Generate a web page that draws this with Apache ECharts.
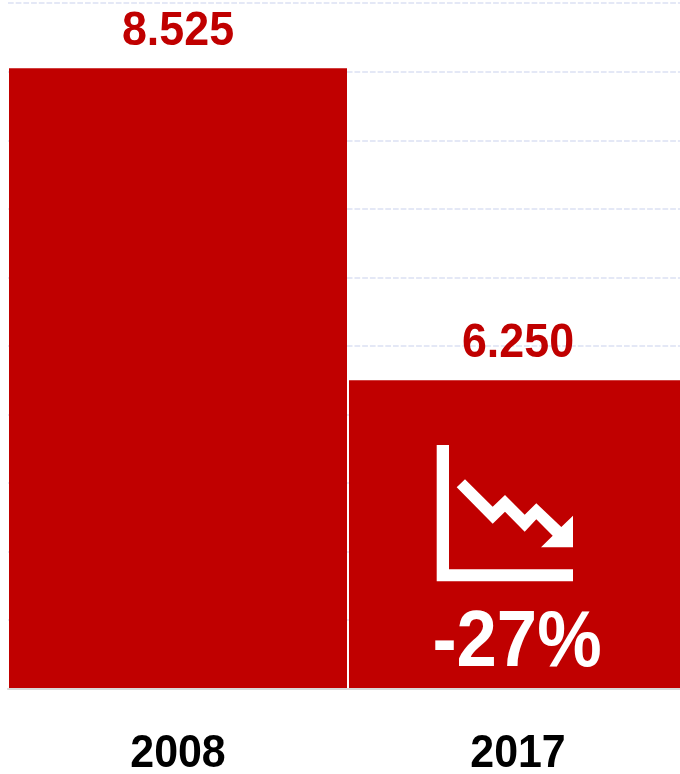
<!DOCTYPE html>
<html>
<head>
<meta charset="utf-8">
<style>html,body{margin:0;padding:0;background:#fff}#c{width:680px;height:774px}</style>
<script src="https://cdn.jsdelivr.net/npm/echarts@6/dist/echarts.min.js"></script>
</head>
<body>
<div id="c"></div>
<script>
const years = ['2008', '2017'];
const values = [8525, 6250];
const valueLabels = ['8.525', '6.250'];
const changeLabel = '-27%';
const RED = '#c00000';
const FONT = '"Liberation Sans", Arial, sans-serif';
const AXIS_MIN = 4000;

const chart = echarts.init(document.getElementById('c'), null, {renderer: 'canvas'});

// Falling-trend pictogram placed inside the 2017 bar
const axesShape = [[436.7,445],[449,445],[449,569.3],[573,569.3],[573,581.3],[436.7,581.3]];
const arrowShape = [[456.7,487.3],[465,479.3],[492.7,506.7],[505,495],[524.7,514.7],[536.3,503.3],[561.3,527],[573,515.7],[573,547.3],[541,547.3],[552.7,535.7],[536.3,519.3],[524.7,531.7],[505,511.7],[492.7,523.7]];

// Narrowed bold text anchored to a data position
function narrowText(x, y, text, fill, size, scaleX) {
  return {
    type: 'text', x, y, scaleX,
    style: {text, fill, font: 'bold ' + size + 'px ' + FONT, align: 'center', verticalAlign: 'middle'}
  };
}

chart.setOption({
  animation: false,
  grid: {left: 8, top: 3.2, width: 680, height: 685.6, outerBoundsMode: 'none'},
  xAxis: {
    type: 'category',
    data: years,
    z: 5,
    axisTick: {show: false},
    axisLine: {show: true, lineStyle: {color: '#d9d9d9', width: 2}},
    axisLabel: {show: false}
  },
  yAxis: {
    type: 'value',
    min: AXIS_MIN,
    max: 9000,
    interval: 500,
    axisLabel: {show: false},
    axisLine: {show: false},
    axisTick: {show: false},
    splitLine: {show: true, lineStyle: {color: '#e4e8f6', width: 2, type: [5.7, 2]}}
  },
  series: [{
    type: 'bar',
    data: values,
    barWidth: 338,
    itemStyle: {color: RED}
  }, {
    // Value above each bar
    type: 'custom',
    z: 6,
    data: values,
    renderItem: (params, api) => {
      const i = params.dataIndex;
      const p = api.coord([i, values[i]]);
      return narrowText(p[0], p[1] - 37, valueLabels[i], RED, 48, 0.933);
    }
  }, {
    // Year below the baseline
    type: 'custom',
    z: 6,
    data: values,
    renderItem: (params, api) => {
      const p = api.coord([params.dataIndex, AXIS_MIN]);
      return narrowText(p[0], p[1] + 65, years[params.dataIndex], '#000', 47, 0.913);
    }
  }],
  graphic: [
    {type: 'polygon', z: 10, shape: {points: axesShape}, style: {fill: '#fff'}},
    {type: 'polygon', z: 10, shape: {points: arrowShape}, style: {fill: '#fff'}},
    {type: 'text', z: 10, x: 517, y: 644, scaleX: 0.906, style: {
      text: changeLabel, fill: '#fff', font: 'bold 80px ' + FONT, textAlign: 'center', textVerticalAlign: 'middle'
    }}
  ]
});
</script>
</body>
</html>
